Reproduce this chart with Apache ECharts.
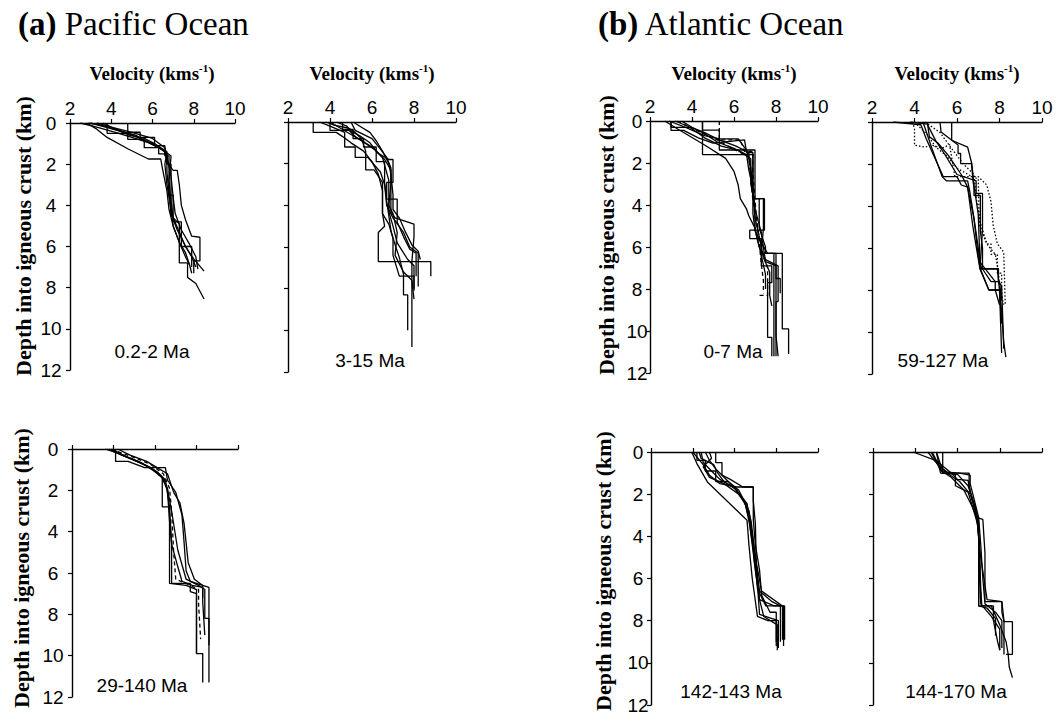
<!DOCTYPE html>
<html>
<head>
<meta charset="utf-8">
<script src="https://cdn.jsdelivr.net/npm/echarts@6/dist/echarts.min.js"></script>
<style>
html,body{margin:0;padding:0;background:#fff;}
#chart{width:1060px;height:715px;}
</style>
</head>
<body>
<div id="chart"></div>
<script>
// ---------------- DATA (velocity km/s, depth km) ----------------
const velocityTicks = [2, 4, 6, 8, 10];
const depthTicks = [0, 2, 4, 6, 8, 10, 12];
const oceanTitles = ['(a)|Pacific Ocean', '(b)|Atlantic Ocean'];
const panelLabels = ['0.2-2 Ma', '3-15 Ma', '29-140 Ma', '0-7 Ma', '59-127 Ma', '142-143 Ma', '144-170 Ma'];

// Pacific 0.2-2 Ma
const pac02_2Solid = [
  [[2.5,0],[3.3,0.2],[4.2,0.45],[5.0,0.7],[5.8,0.95],[6.4,1.25],[6.7,1.5],[6.7,2.4],[6.8,3.4],[6.9,4.4],[7.2,5.2],[7.6,6.0],[7.9,6.5],[8.1,7.0]],
  [[2.8,0],[3.3,0.3],[3.8,0.7],[4.8,1.25],[5.8,1.75],[6.4,1.75],[6.5,2.3],[6.7,3.3],[6.8,4.2],[7.0,5.0],[7.3,5.8],[7.6,6.5],[7.8,6.9]],
  [[3.8,0],[3.8,0.5],[4.8,0.5],[4.8,0.8],[5.6,0.8],[5.6,1.2],[6.3,1.2],[6.3,1.5],[6.7,1.5],[6.7,2.0],[6.9,2.0],[6.9,4.5],[7.3,4.9],[7.3,5.6],[7.3,6.8],[7.7,6.8],[7.7,7.5],[8.1,7.8],[8.5,8.55]],
  [[3.0,0],[3.9,0.25],[4.8,0.5],[5.5,0.8],[6.0,1.0],[6.6,1.4],[6.7,1.9],[7.0,2.3],[7.2,2.3],[7.3,3.0],[7.4,4.0],[7.6,4.7],[7.9,5.5],[8.3,5.55],[8.3,6.7],[8.0,6.7],[8.0,7.3]],
  [[3.6,0],[4.2,0.3],[5.2,0.6],[5.7,0.9],[6.5,1.3],[6.9,1.6],[6.8,2.8],[6.9,3.8],[7.0,4.6],[7.3,5.3],[7.6,6.0],[8.0,6.6],[8.5,7.2]],
  [[2.9,0],[3.5,0.1],[4.3,0.35],[4.9,0.6],[5.6,0.75],[6.1,1.0],[6.7,1.4],[6.6,2.0],[6.7,3.0],[6.9,4.2],[7.0,5.0],[7.3,5.8],[7.6,6.3],[7.8,6.9],[7.9,7.3]],
  [[4.8,0],[4.8,0.45],[5.4,0.45],[5.4,0.7],[6.1,0.7],[6.1,1.1],[6.6,1.1],[6.6,1.6],[6.8,1.6],[6.8,3.5],[7.0,3.5],[7.0,4.8],[7.4,4.8],[7.4,6.0],[7.9,6.0],[7.9,7.0]],
  [[3.3,0],[4.0,0.2],[5.0,0.45],[6.0,0.75],[6.6,1.2],[6.7,1.6],[6.9,2.6],[7.0,3.6],[7.1,4.4],[7.4,5.2],[7.8,5.9],[8.1,6.5],[8.2,7.1]]
];

// Pacific 3-15 Ma
const pac3_15Solid = [
  [[3.2,0],[3.2,0.5],[4.3,0.5],[4.6,0.7],[5.0,1.0],[5.6,1.4],[6.0,1.9],[6.3,2.5],[6.5,3.3],[6.5,4.4],[6.6,5.0],[6.3,5.3],[6.3,6.7],[8.8,6.7],[8.8,7.4]],
  [[3.5,0],[4.0,0.2],[4.7,0.5],[4.7,1.2],[5.2,1.2],[5.2,1.7],[5.8,1.7],[6.4,2.4],[6.6,3.0],[6.7,4.0],[7.0,4.6],[7.5,5.3],[7.8,6.0],[8.2,6.3],[8.2,7.9]],
  [[4.0,0],[4.5,0.3],[5.0,0.6],[5.5,0.9],[6.1,1.3],[6.6,1.8],[6.9,2.3],[6.9,3.2],[6.9,4.3],[7.1,4.6],[8.0,4.9],[8.0,5.5],[7.9,6.7],[7.9,10.8]],
  [[4.6,0],[4.6,0.35],[5.1,0.35],[5.1,0.8],[5.6,0.8],[5.6,1.2],[6.2,1.2],[6.2,1.9],[6.6,1.9],[6.6,2.9],[6.7,3.8],[6.8,4.5],[6.9,5.2],[7.1,5.9],[7.3,6.5],[7.5,7.3],[7.5,8.3],[7.7,8.3],[7.7,10.0]],
  [[5.1,0],[5.5,0.25],[5.9,0.5],[6.2,0.9],[6.5,1.4],[6.8,2.0],[6.9,2.5],[7.0,3.5],[7.0,4.2],[7.3,4.6],[7.6,5.3],[7.9,5.9],[8.2,6.2],[8.3,6.6]],
  [[3.8,0],[4.2,0.15],[4.9,0.3],[5.2,0.5],[5.5,0.8],[5.7,1.4],[5.7,2.3],[6.1,2.3],[6.5,2.9],[6.5,4.4],[6.8,4.9],[7.0,5.6],[7.0,6.4],[7.3,7.4],[8.0,7.4],[8.0,8.1]],
  [[4.3,0],[4.8,0.2],[5.0,0.45],[5.4,0.65],[5.9,1.0],[6.3,1.5],[6.8,1.8],[7.0,1.8],[7.0,2.9],[6.7,2.9],[6.7,3.7],[7.2,3.7],[7.2,4.8],[7.5,5.5],[7.8,6.1],[8.1,6.3],[8.1,7.4]],
  [[5.0,0],[5.2,0.4],[6.0,0.8],[6.4,1.3],[6.7,1.7],[6.9,2.2],[6.9,3.0],[6.8,4.0],[7.0,4.4],[7.2,5.3],[7.1,6.4],[7.5,7.2],[7.9,7.6],[8.0,8.5]],
  [[4.0,0],[4.0,0.4],[4.9,0.4],[5.2,0.7],[6.0,1.2],[6.5,1.7],[6.8,2.8],[6.8,4.3],[7.0,5.0],[7.2,5.8],[7.7,6.6],[8.0,6.9],[8.0,8.0]]
];

// Pacific 29-140 Ma
const pac29_140Solid = [
  [[3.6,0],[4.2,0.2],[4.9,0.5],[5.6,0.8],[6.1,1.1],[6.5,1.5],[6.7,2.8],[6.7,6.5],[7.5,6.6],[8.0,6.8],[8.0,9.9],[8.3,9.9],[8.3,11.3]],
  [[4.1,0],[4.1,0.6],[4.7,0.6],[5.5,0.9],[6.5,0.9],[6.6,1.5],[7.0,2.1],[7.3,3.2],[7.4,4.5],[7.5,5.9],[7.7,6.4],[8.6,6.7],[8.6,11.3]],
  [[3.8,0],[4.4,0.3],[5.2,0.6],[5.9,1.0],[6.35,1.4],[6.35,2.8],[6.7,2.8],[6.8,4.5],[6.8,6.5],[7.7,6.5],[7.7,6.9],[8.0,7.0],[8.0,9.9]],
  [[3.9,0],[4.6,0.35],[5.4,0.7],[6.0,1.1],[6.4,1.4],[6.6,1.9],[6.8,3.0],[7.1,4.9],[7.5,6.3],[8.1,6.6],[8.4,6.8],[8.4,8.2],[8.6,8.2],[8.6,9.5]],
  [[3.7,0],[4.3,0.25],[5.0,0.55],[5.8,0.9],[6.3,1.3],[6.6,2.0],[6.7,3.5],[6.8,4.6],[7.1,5.7],[7.3,6.4],[7.8,6.6],[8.3,6.7],[8.3,7.4],[8.4,9.0]],
  [[4.2,0],[4.8,0.3],[5.6,0.6],[6.1,0.9],[6.6,1.2],[6.9,2.1],[7.2,2.6],[7.4,3.6],[7.6,5.5],[7.9,6.3],[8.3,6.6],[8.3,7.2]]
];
const pac29_140Dashed = [
  [[3.9,0],[4.4,0.2],[5.1,0.45],[5.8,0.75],[6.4,1.2],[6.7,1.9],[6.8,3.0],[6.9,5.0],[7.0,6.3],[7.7,6.6],[8.1,6.8],[8.1,7.5],[8.2,9.2]]
];

// Atlantic 0-7 Ma
const atl0_7Solid = [
  [[4.5,0],[4.5,1.6],[6.9,1.6],[6.9,3.7],[7.4,3.7],[7.4,5.1],[7.3,6.3],[7.9,6.3],[7.9,8.0],[7.9,11.2]],
  [[2.7,0],[3.4,0.43],[4.6,1.14],[5.6,1.78],[6.0,2.4],[6.2,3.05],[6.3,3.7],[6.6,4.2],[6.7,4.5],[7.0,5.1],[7.3,6.4],[7.5,7.3],[7.5,8.0]],
  [[3.0,0],[3.0,0.3],[3.9,0.3],[4.6,0.8],[5.4,1.2],[6.2,1.4],[6.8,1.8],[6.8,3.0],[7.0,4.0],[7.0,5.2],[7.2,6.0],[7.5,6.6],[8.1,6.9],[8.1,8.6],[8.0,8.6],[8.0,11.2]],
  [[3.5,0],[4.0,0.3],[4.6,0.6],[5.2,1.0],[6.0,1.3],[6.6,1.6],[6.7,2.3],[6.9,3.2],[6.9,4.4],[7.0,5.2],[7.3,5.8],[7.6,6.3],[8.3,6.3],[8.3,9.9],[8.6,9.9],[8.6,11.1]],
  [[4.5,0],[4.5,0.43],[5.3,0.43],[5.3,1.38],[7.0,1.38],[7.0,3.7],[7.45,3.7],[7.45,5.2],[6.75,5.2],[6.75,5.6],[7.3,5.6],[7.3,6.9],[7.8,6.9],[7.8,7.7],[7.6,7.7],[7.6,10.3],[7.8,10.3],[7.8,11.2]],
  [[3.2,0],[3.8,0.25],[4.5,0.5],[5.3,0.9],[6.1,1.2],[6.7,1.5],[6.8,2.5],[6.9,3.5],[7.0,4.6],[7.2,5.5],[7.4,6.5],[7.7,7.2],[7.7,8.3],[7.8,8.8]],
  [[3.0,0],[3.0,0.45],[3.6,0.45],[4.3,0.8],[5.0,1.05],[6.5,0.9],[6.6,1.5],[6.9,1.5],[6.9,3.7],[7.2,3.7],[7.2,5.1],[7.5,6.0],[7.5,6.3],[8.0,6.3],[8.0,7.5],[8.2,7.5],[8.2,8.2]],
  [[2.9,0],[3.7,0.3],[4.6,0.7],[5.3,0.85],[6.2,0.85],[6.6,1.4],[6.8,2.2],[6.9,3.2],[7.0,4.2],[7.3,5.3],[7.5,6.7],[8.0,6.9],[8.0,10.2],[8.1,11.2]]
];
const atl0_7Dashed = [
  [[5.3,0],[5.3,0.9],[6.3,0.9],[6.5,1.45],[6.9,1.45],[6.9,2.5],[7.0,3.7],[7.1,5.0],[7.3,6.0],[7.6,7.0],[7.6,8.3],[7.1,8.3]],
  [[3.3,0],[4.0,0.35],[5.2,0.9],[6.0,1.35],[6.7,1.7],[6.8,2.8],[6.9,3.8],[7.1,4.8],[7.2,5.8],[7.3,6.8],[7.4,7.6],[7.4,8.2]]
];

// Atlantic 59-127 Ma
const atl59_127Solid = [
  [[3.0,0],[4.3,0.13],[4.55,0.8],[5.35,2.6],[6.0,2.6],[6.2,3.0],[6.5,3.1],[6.6,3.6],[6.8,4.6],[7.0,6.0],[7.1,7.0],[7.9,7.0],[8.0,8.0],[8.1,9.0],[8.2,10.5],[8.3,11.2]],
  [[4.4,0],[4.8,1.2],[5.3,2.6],[5.5,2.8],[6.5,2.8],[6.6,3.3],[6.8,4.6],[7.0,6.4],[7.1,7.0],[7.5,8.0],[8.0,8.0],[8.05,9.5],[8.1,11.0]],
  [[5.2,0],[5.25,0.48],[6.05,1.1],[6.05,1.5],[6.17,1.5],[6.17,1.98],[6.68,1.98],[6.76,2.86],[6.87,3.5],[7.0,4.4],[7.08,6.67],[7.16,6.98],[7.95,6.98],[7.95,7.6],[8.1,7.8],[8.2,10.8]],
  [[5.75,0],[5.75,0.87],[6.5,1.2],[6.7,2.0],[6.8,3.0],[6.8,3.5],[7.1,3.5],[7.1,5.2],[7.2,6.0],[7.2,7.0],[7.6,7.6],[8.0,7.6],[8.1,8.5]],
  [[4.6,0],[4.7,0.7],[5.1,1.0],[5.6,1.6],[6.2,2.5],[6.5,3.1],[6.75,5.0],[7.08,7.0],[7.5,8.0],[8.0,8.0],[8.1,9.6]],
  [[3.8,0],[4.6,0.1],[5.0,0.9],[5.4,1.5],[6.0,2.5],[6.9,2.8],[6.9,3.4],[7.2,3.4],[7.2,5.1],[7.1,6.7],[7.8,7.6],[7.8,8.0],[8.0,8.7]]
];
const atl59_127Dotted = [
  [[3.9,0],[4.0,0.3],[4.0,1.1],[4.5,1.2],[4.8,1.1],[5.3,1.25],[5.65,1.08],[5.9,2.6],[7.0,2.6],[7.4,3.0],[7.6,3.8],[7.7,4.9],[7.9,5.8],[8.2,6.2],[8.27,8.7]],
  [[4.0,0],[4.6,0.6],[5.0,1.2],[5.5,1.6],[6.0,2.2],[6.7,2.6],[7.0,2.7],[7.05,4.9],[7.4,5.8],[7.8,6.3],[7.95,7.1],[8.0,7.9],[8.2,8.7]],
  [[4.5,0],[5.2,0.5],[5.7,1.2],[6.3,2.0],[6.8,2.5],[6.9,3.6],[7.1,4.8],[7.4,5.8],[7.6,5.8],[7.6,6.3],[7.9,6.3],[7.9,7.2],[8.1,7.2],[8.1,8.4]]
];

// Atlantic 142-143 Ma
const atl142_143Solid = [
  [[3.95,0],[4.2,0.55],[4.7,1.42],[6.6,3.24],[6.7,4.5],[6.85,6.0],[7.1,7.8],[7.6,8.0],[8.0,8.0],[8.0,9.0]],
  [[4.2,0],[4.2,0.4],[4.6,0.4],[4.6,0.9],[5.1,0.9],[5.1,1.4],[5.7,1.4],[6.2,1.8],[6.5,2.4],[6.7,3.3],[6.9,4.6],[7.1,6.1],[7.2,7.0],[7.9,7.3],[8.35,7.3],[8.35,9.2]],
  [[4.6,0],[4.8,0.4],[5.1,0.8],[5.5,1.2],[6.0,1.7],[6.3,2.1],[6.6,2.5],[6.8,3.3],[7.0,5.0],[7.2,6.6],[7.8,7.1],[8.2,7.3],[8.2,9.0]],
  [[5.1,0],[5.1,0.5],[5.4,0.5],[5.4,1.1],[5.8,1.3],[6.4,1.66],[6.9,1.66],[6.9,3.2],[7.0,4.4],[7.2,5.6],[7.3,6.8],[7.7,7.6],[8.0,7.6],[8.0,9.2]],
  [[4.4,0],[4.5,0.5],[4.9,0.9],[5.3,1.3],[6.0,1.7],[6.4,2.3],[6.7,2.8],[6.85,4.0],[6.95,5.2],[7.1,6.3],[7.2,7.7],[7.8,7.9],[8.1,8.0],[8.1,9.3]],
  [[4.8,0],[4.9,0.3],[4.5,0.7],[4.8,1.2],[5.5,1.5],[6.2,2.0],[6.5,2.4],[6.8,3.6],[7.0,5.0],[7.3,6.6],[8.3,7.3],[8.3,8.9]],
  [[4.3,0],[4.4,0.3],[5.0,0.6],[5.2,1.0],[5.5,1.4],[6.1,1.8],[6.6,2.45],[6.7,3.2],[6.9,4.8],[7.05,6.0],[7.2,7.0],[7.4,7.8],[8.05,8.2],[8.05,9.4]],
  [[4.0,0],[4.5,0.6],[4.8,1.1],[5.3,1.5],[6.1,1.66],[6.9,1.66],[6.9,2.3],[7.0,3.4],[7.05,5.5],[7.1,6.5],[7.5,7.3],[8.4,7.3],[8.4,8.9]]
];

// Atlantic 144-170 Ma
const atl144_170Solid = [
  [[3.9,0],[5.05,0.43],[5.25,0.9],[5.7,1.2],[6.3,1.8],[6.7,2.6],[6.95,3.2],[7.05,5.0],[7.1,7.2],[7.6,7.8],[8.0,8.4],[8.0,9.4]],
  [[4.75,0],[5.0,0.5],[5.3,1.0],[6.55,1.0],[6.55,1.6],[6.7,2.3],[6.9,3.1],[7.2,3.2],[7.3,4.8],[7.3,7.1],[8.1,7.1],[8.1,7.6],[8.2,8.05],[8.6,8.05],[8.6,9.6],[8.3,9.6]],
  [[5.0,0],[5.2,0.6],[5.3,0.9],[5.9,1.06],[5.9,1.6],[6.5,1.9],[6.8,2.9],[7.0,3.6],[7.05,5.5],[7.0,7.1],[7.0,7.3],[7.6,7.3],[8.0,8.2],[8.3,9.0],[8.4,9.6],[8.45,10.2],[8.6,10.7]],
  [[5.3,0],[5.3,0.8],[5.5,0.95],[6.1,1.0],[6.6,1.1],[6.6,1.5],[6.8,2.3],[7.0,3.1],[7.1,4.4],[7.2,6.0],[7.3,7.2],[7.8,7.6],[8.1,8.0],[8.1,9.3]],
  [[4.6,0],[4.9,0.4],[5.5,1.0],[6.1,1.4],[6.6,2.0],[6.9,2.9],[7.0,4.0],[7.1,6.4],[7.15,7.3],[7.7,7.3],[7.7,8.0],[7.9,9.0],[8.0,9.4]],
  [[5.0,0],[5.1,0.5],[5.7,1.0],[6.0,1.3],[6.5,1.35],[6.6,1.9],[6.85,2.7],[6.95,3.5],[7.1,5.0],[7.4,7.0],[8.1,7.1],[8.2,8.0],[8.2,9.6]],
  [[4.8,0],[5.1,0.6],[5.2,1.0],[6.0,1.06],[6.5,1.6],[6.8,2.5],[7.0,3.3],[7.0,7.3],[7.4,7.4],[7.8,7.9],[7.8,8.7]]
];

// ---------------- LAYOUT ----------------
const panels = [
  {grid:{left:70, top:123, width:165, height:247}, xl:true,  yl:true,  ym:19, solid:pac02_2Solid},
  {grid:{left:288,top:122, width:168, height:250}, xl:true,  yl:false, ym:19, solid:pac3_15Solid},
  {grid:{left:72, top:449, width:166, height:248}, xl:false, yl:true,  ym:19, solid:pac29_140Solid, dashed:pac29_140Dashed},
  {grid:{left:650,top:121, width:168, height:252}, xl:true,  yl:true,  ym:13, solid:atl0_7Solid, dashed:atl0_7Dashed},
  {grid:{left:872,top:122, width:170, height:252}, xl:true,  yl:false, ym:13, solid:atl59_127Solid, dotted:atl59_127Dotted},
  {grid:{left:651,top:452, width:167, height:253}, xl:false, yl:true,  ym:13, solid:atl142_143Solid},
  {grid:{left:873,top:452, width:169, height:253}, xl:false, yl:false, ym:13, solid:atl144_170Solid}
];
const labelPos = [[152,351],[370,360],[142,685],[733,351],[943,360],[731,691],[956,691]];

const SANS = '"Liberation Sans", Arial, sans-serif';
const SERIF = '"Liberation Serif", "Times New Roman", serif';
const axisLineStyle = {color:'#000', width:1.4};

const grids = [], xAxes = [], yAxes = [], series = [];
panels.forEach((p, i) => {
  grids.push(Object.assign({containLabel:false}, p.grid));
  xAxes.push({
    type:'value', gridIndex:i, position:'top',
    min:velocityTicks[0], max:velocityTicks[velocityTicks.length-1], interval:velocityTicks[1]-velocityTicks[0],
    axisLine:{show:true, onZero:false, lineStyle:axisLineStyle},
    axisTick:{show:true, inside:false, length:4, lineStyle:{color:'#000', width:1.2}},
    axisLabel:{show:p.xl, color:'#000', fontSize:19, fontFamily:SANS, margin:5},
    splitLine:{show:false}
  });
  yAxes.push({
    type:'value', gridIndex:i, inverse:true,
    min:depthTicks[0], max:depthTicks[depthTicks.length-1], interval:depthTicks[1]-depthTicks[0],
    axisLine:{show:true, onZero:false, lineStyle:axisLineStyle},
    axisTick:{show:true, inside:false, length:4, lineStyle:{color:'#000', width:1.2}},
    axisLabel:{show:p.yl, color:'#000', fontSize:19, fontFamily:SANS, margin:p.ym, align:'center'},
    splitLine:{show:false}
  });
  const add = (arr, type) => (arr || []).forEach(prof => series.push({
    type:'line', xAxisIndex:i, yAxisIndex:i, data:prof, symbol:'none', showSymbol:false,
    silent:true, animation:false, smooth:false,
    lineStyle:{color:'#000', width:1.3, type:type}
  }));
  add(p.solid, 'solid');
  add(p.dashed, [4,3]);
  add(p.dotted, [1.5,2]);
});

// ---------------- TEXT ----------------
const graphics = [];
const titleX = [18, 598];
oceanTitles.forEach((t, k) => {
  const parts = t.split('|');
  graphics.push({type:'text', x:titleX[k], y:24, style:{
    text:'{b|' + parts[0] + '}{n| ' + parts[1] + '}',
    rich:{b:{fontFamily:SERIF, fontWeight:'bold', fontSize:33, fill:'#000'}, n:{fontFamily:SERIF, fontSize:33, fill:'#000'}},
    textVerticalAlign:'middle', verticalAlign:'middle', textAlign:'left', align:'left'
  }});
});
[[152,73],[372,73],[734,73],[957,73]].forEach(c => {
  graphics.push({type:'text', x:c[0], y:c[1], style:{
    text:'{b|Velocity (kms}{s|-1}{b|)}',
    rich:{b:{fontFamily:SERIF, fontWeight:'bold', fontSize:19, fill:'#000', lineHeight:22},
          s:{fontFamily:SERIF, fontWeight:'bold', fontSize:11, fill:'#000', verticalAlign:'top', lineHeight:22, padding:[0,0,8,0]}},
    textAlign:'center', align:'center', textVerticalAlign:'middle', verticalAlign:'middle'
  }});
});
[[23,236],[21,568],[606,235],[603,571]].forEach(c => {
  graphics.push({type:'text', x:c[0], y:c[1], rotation:Math.PI/2, style:{
    text:'Depth into igneous crust (km)', font:'bold 22px ' + SERIF, fill:'#000',
    textAlign:'center', align:'center', textVerticalAlign:'middle', verticalAlign:'middle'
  }});
});
panelLabels.forEach((t, i) => {
  graphics.push({type:'text', x:labelPos[i][0], y:labelPos[i][1], style:{
    text:t, font:'19px ' + SANS, fill:'#000',
    textAlign:'center', align:'center', textVerticalAlign:'middle', verticalAlign:'middle'
  }});
});

const chart = echarts.init(document.getElementById('chart'), null, {renderer:'svg', width:1060, height:715});
chart.setOption({
  backgroundColor:'#fff', animation:false,
  grid:grids, xAxis:xAxes, yAxis:yAxes, series:series, graphic:graphics
});
</script>
</body>
</html>
